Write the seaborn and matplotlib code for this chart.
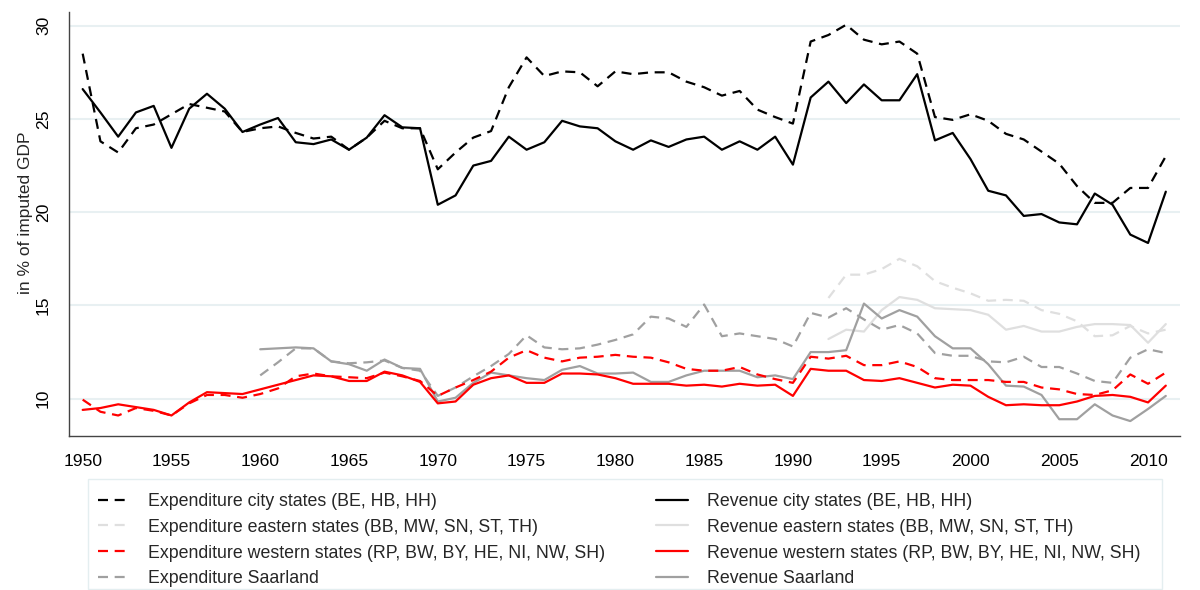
import matplotlib
matplotlib.use("Agg")
import numpy as np
import pandas as pd
import matplotlib.pyplot as plt
import seaborn as sns
from matplotlib.patches import Rectangle

# --- data ---
years = list(range(1950, 2012))
saar_years = list(range(1960, 2012))
east_years = list(range(1992, 2012))

city_exp = [28.5, 23.8, 23.2, 24.5, 24.7, 25.25, 25.8, 25.6, 25.4, 24.3,
            24.5, 24.6, 24.25, 23.95, 24.05, 23.35, 24.0, 24.9, 24.5, 24.5,
            22.3, 23.2, 24.0, 24.35, 26.7, 28.3, 27.3, 27.55, 27.5, 26.75,
            27.55, 27.4, 27.5, 27.5, 27.0, 26.7, 26.25, 26.5, 25.5, 25.1,
            24.75, 29.15, 29.5, 30.05, 29.25, 29.0, 29.15, 28.5, 25.1, 24.95,
            25.25, 24.9, 24.2, 23.9, 23.25, 22.6, 21.4, 20.5, 20.5, 21.3,
            21.3, 23.0]
city_rev = [26.6, 25.35, 24.05, 25.35, 25.7, 23.45, 25.55, 26.35, 25.55, 24.3,
            24.7, 25.05, 23.75, 23.65, 23.9, 23.35, 24.0, 25.2, 24.55, 24.5,
            20.4, 20.9, 22.5, 22.75, 24.05, 23.35, 23.75, 24.9, 24.6, 24.5,
            23.8, 23.35, 23.85, 23.5, 23.9, 24.05, 23.35, 23.8, 23.35, 24.05,
            22.55, 26.15, 27.0, 25.85, 26.85, 26.0, 26.0, 27.4, 23.85, 24.25,
            22.85, 21.15, 20.9, 19.8, 19.9, 19.45, 19.35, 21.0, 20.4, 18.8,
            18.35, 21.1]
west_exp = [9.95, 9.3, 9.1, 9.5, 9.35, 9.1, 9.75, 10.2, 10.2, 10.05,
            10.25, 10.55, 11.2, 11.35, 11.2, 11.15, 11.1, 11.4, 11.2, 10.95,
            10.15, 10.6, 11.0, 11.45, 12.2, 12.6, 12.2, 12.0, 12.2, 12.25,
            12.35, 12.25, 12.2, 11.95, 11.6, 11.5, 11.5, 11.7, 11.3, 11.05,
            10.85, 12.25, 12.15, 12.3, 11.8, 11.8, 12.0, 11.7, 11.1, 11.0,
            11.0, 11.0, 10.9, 10.9, 10.6, 10.5, 10.25, 10.2, 10.45, 11.3,
            10.8, 11.4]
west_rev = [9.4, 9.5, 9.7, 9.55, 9.4, 9.1, 9.8, 10.35, 10.3, 10.25,
            10.5, 10.75, 11.0, 11.25, 11.2, 10.95, 10.95, 11.45, 11.25, 10.9,
            9.75, 9.85, 10.75, 11.1, 11.25, 10.85, 10.85, 11.35, 11.35, 11.3,
            11.1, 10.8, 10.8, 10.8, 10.7, 10.75, 10.65, 10.8, 10.7, 10.75,
            10.15, 11.6, 11.5, 11.5, 11.0, 10.95, 11.1, 10.85, 10.6, 10.75,
            10.7, 10.1, 9.65, 9.7, 9.65, 9.65, 9.85, 10.15, 10.2, 10.1,
            9.8, 10.7]
saar_exp = [11.25, 11.95, 12.7, 12.7, 12.0, 11.9, 11.95, 12.05, 11.65, 11.5,
            10.15, 10.6, 11.2, 11.75, 12.4, 13.4, 12.75, 12.65, 12.7, 12.9,
            13.15, 13.45, 14.4, 14.3, 13.85, 15.05, 13.35, 13.5, 13.35, 13.2,
            12.8, 14.6, 14.35, 14.85, 14.25, 13.7, 13.95, 13.5, 12.45, 12.3,
            12.3, 12.0, 11.95, 12.25, 11.7, 11.7, 11.35, 10.95, 10.85, 12.2,
            12.65, 12.45]
saar_rev = [12.65, 12.7, 12.75, 12.7, 12.0, 11.85, 11.5, 12.1, 11.65, 11.6,
            9.85, 10.05, 10.85, 11.4, 11.25, 11.1, 11.0, 11.55, 11.75, 11.35,
            11.35, 11.4, 10.9, 10.9, 11.25, 11.5, 11.5, 11.5, 11.15, 11.25,
            11.05, 12.5, 12.5, 12.6, 15.1, 14.3, 14.75, 14.4, 13.35, 12.7,
            12.7, 11.85, 10.7, 10.65, 10.2, 8.9, 8.9, 9.7, 9.1, 8.8,
            9.45, 10.15]
east_exp = [15.4, 16.65, 16.65, 16.95, 17.5, 17.1, 16.3, 15.95, 15.65, 15.25,
            15.3, 15.25, 14.75, 14.55, 14.15, 13.35, 13.4, 13.9, 13.5, 13.7]
east_rev = [13.2, 13.7, 13.6, 14.75, 15.45, 15.3, 14.85, 14.8, 14.75, 14.5,
            13.7, 13.9, 13.6, 13.6, 13.85, 14.0, 14.0, 13.95, 13.0, 14.0]

labels_exp = ["Expenditure city states (BE, HB, HH)",
              "Expenditure eastern states (BB, MW, SN, ST, TH)",
              "Expenditure western states (RP, BW, BY, HE, NI, NW, SH)",
              "Expenditure Saarland"]
labels_rev = ["Revenue city states (BE, HB, HH)",
              "Revenue eastern states (BB, MW, SN, ST, TH)",
              "Revenue western states (RP, BW, BY, HE, NI, NW, SH)",
              "Revenue Saarland"]

sns.set_style("white")
plt.rcParams["font.family"] = ["Liberation Sans", "DejaVu Sans"]

fig = plt.figure(figsize=(12, 5.9), dpi=100)
ax = fig.add_axes([69 / 1200, 1 - 436 / 590, 1111 / 1200, 424.3 / 590])

dash = (0, (4.5, 3))
series = [
    (east_years, east_exp, "#dfdfdf", dash, labels_exp[1]),
    (east_years, east_rev, "#dfdfdf", "-", labels_rev[1]),
    (saar_years, saar_exp, "#a0a0a0", dash, labels_exp[3]),
    (saar_years, saar_rev, "#a0a0a0", "-", labels_rev[3]),
    (years, west_exp, "#ff0000", dash, labels_exp[2]),
    (years, west_rev, "#ff0000", "-", labels_rev[2]),
    (years, city_exp, "black", dash, labels_exp[0]),
    (years, city_rev, "black", "-", labels_rev[0]),
]
for x, y, c, ls, lab in series:
    sns.lineplot(x=x, y=y, color=c, linestyle=ls, linewidth=1.6, ax=ax, label=lab)

ax.set_xlim(1949.23, 2011.8)
ax.set_ylim(8.0, 30.75)
ax.set_xticks(range(1950, 2011, 5))
ax.set_yticks([10, 15, 20, 25, 30])
ax.yaxis.grid(True, color="#e8f0f2", linewidth=1.5)
ax.xaxis.grid(False)
ax.set_axisbelow(True)
for s in ["top", "right"]:
    ax.spines[s].set_visible(False)
for s in ["left", "bottom"]:
    ax.spines[s].set_color("#444444")
    ax.spines[s].set_linewidth(1)
ax.tick_params(axis="both", direction="out", length=6.5, width=1, color="#444444",
               labelsize=12.6, labelcolor="black", pad=6.5)
plt.setp(ax.get_yticklabels(), rotation=90, va="center")
ax.set_xlabel("")
ax.set_ylabel("in % of imputed GDP", fontsize=12.5)
ax.yaxis.set_label_coords(-0.039, 0.527)
ax.yaxis.label.set_verticalalignment("center")

handles, labs = ax.get_legend_handles_labels()
order = labels_exp + labels_rev
hmap = dict(zip(labs, handles))
leg = ax.legend([hmap[l] for l in order], order, ncol=2, loc="upper left",
                bbox_to_anchor=(88 / 1200, 1 - 483 / 590), bbox_transform=fig.transFigure,
                fontsize=12.8, frameon=False,
                handlelength=1.78, handletextpad=1.07, columnspacing=2.85,
                labelspacing=0.5, borderpad=0.55, borderaxespad=0)

# legend frame, wider than the entries as in the reference
fig.patches.append(Rectangle((88 / 1200, 1 / 590), 1074 / 1200, 110 / 590,
                             transform=fig.transFigure, fill=False,
                             edgecolor="#e4eef0", linewidth=1))

fig.savefig("out.png", dpi=100)
